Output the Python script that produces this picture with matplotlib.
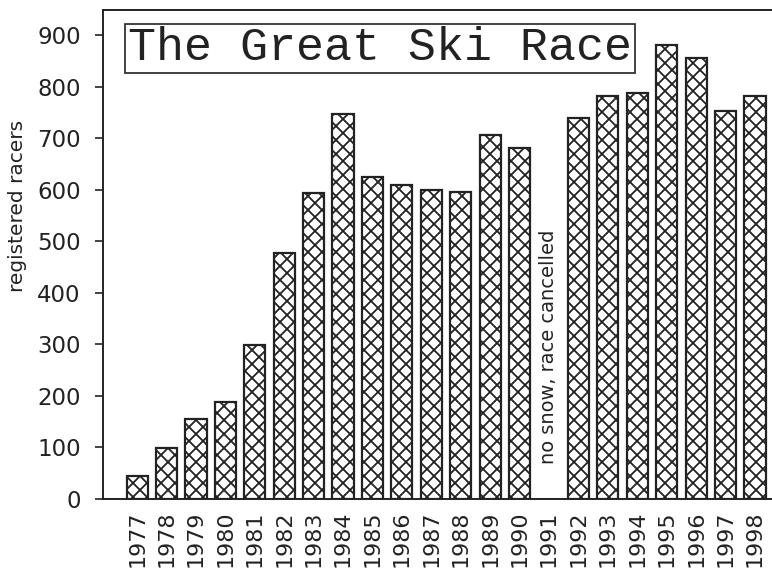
import numpy as np
import matplotlib
matplotlib.use("Agg")
import matplotlib.pyplot as plt

years = list(range(1977, 1999))
racers = [45, 98, 155, 188, 298, 477, 593, 747, 625, 609, 599, 595, 706, 681,
          np.nan, 739, 782, 787, 880, 855, 752, 782]
yticks = [0, 100, 200, 300, 400, 500, 600, 700, 800, 900]
note = "no snow, race cancelled"
title = "The Great Ski Race"

# render at 84 dpi so the crosshatch comes out as dense as the original;
# sizes below are written as if at 100 dpi and scaled by S
DPI = 84
S = 100 / DPI

plt.rcParams['hatch.linewidth'] = 1.3 * S
plt.rcParams['font.family'] = 'DejaVu Sans'
ink = "#222222"

fig = plt.figure(figsize=(772 / DPI, 569 / DPI), dpi=DPI)
ax = fig.add_axes([0.1334, 0.123, 0.8666, 0.859])

ax.bar(years, racers, width=0.72, color="white", edgecolor=ink,
       linewidth=1.6 * S, hatch="xx")

ax.set_xlim(1975.84, 1998.58)
ax.set_ylim(0, 948)
ax.set_yticks(yticks)
ax.set_xticks(years)
ax.set_xticklabels([str(y) for y in years], rotation=90)
ax.tick_params(axis="y", length=6 * S, width=1.2 * S, labelsize=16.5 * S,
               colors=ink, pad=10 * S)
ax.tick_params(axis="x", length=0, labelsize=16 * S, colors=ink, pad=8 * S)
ax.set_ylabel("registered racers", fontsize=14.5 * S, color=ink)
ax.yaxis.set_label_coords(-0.114, 0.6)

ax.spines["right"].set_visible(False)
for s in ["left", "bottom", "top"]:
    ax.spines[s].set_linewidth(1.4 * S)
    ax.spines[s].set_color(ink)

ax.text(1991, 295, note, rotation=90, ha="center", va="center",
        fontsize=14 * S, color=ink)

ax.text(0.037, 0.922, title, transform=ax.transAxes, ha="left", va="center",
        fontsize=33.6 * S, family="Liberation Mono", color=ink,
        bbox=dict(boxstyle="square,pad=0.06", facecolor="white",
                  edgecolor=ink, linewidth=1.2 * S))

fig.savefig("out.png", dpi=DPI)
